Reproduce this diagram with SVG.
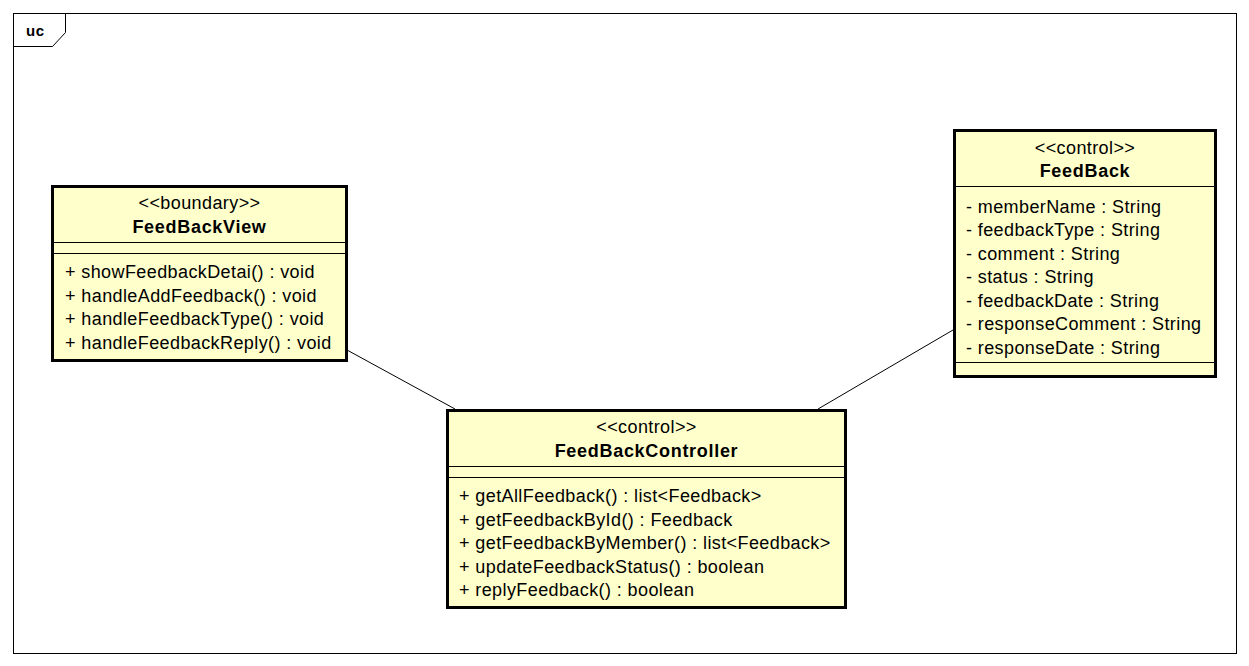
<svg xmlns="http://www.w3.org/2000/svg" width="1249" height="666" viewBox="0 0 1249 666">
<style>
.box{fill:#ffffcc;stroke:#000;stroke-width:3}
.sep{stroke:#000;stroke-width:1}
.t{font-family:"Liberation Sans",Arial,sans-serif;font-size:18px;letter-spacing:0.4px;fill:#000}
.c{text-anchor:middle}
.b{font-weight:bold;letter-spacing:0.7px}
.conn{stroke:#000;stroke-width:1;fill:none}
</style>
<rect x="0" y="0" width="1249" height="666" fill="#fff"/>
<g id="frame">
<rect x="13.5" y="13.5" width="1223" height="640" fill="none" stroke="#000" stroke-width="1"/>
<path d="M13.5 46.5 H52.5 L65.5 32.5 V13.5" fill="none" stroke="#000" stroke-width="1"/>
<text x="26" y="36" class="t b" style="font-size:15px">uc</text>
</g>
<g id="connectors">
<line class="conn" x1="347" y1="350" x2="455" y2="409"/>
<line class="conn" x1="953" y1="330" x2="818" y2="409"/>
</g>
<g id="FeedBackView">
<rect class="box" x="52.5" y="186.5" width="294" height="174"/>
<line class="sep" x1="52" y1="242.5" x2="347" y2="242.5"/>
<line class="sep" x1="52" y1="253.5" x2="347" y2="253.5"/>
<text class="t c" x="199.5" y="209">&lt;&lt;boundary&gt;&gt;</text>
<text class="t c b" x="199.5" y="233">FeedBackView</text>
<text class="t" x="65" y="278">+ showFeedbackDetai() : void</text>
<text class="t" x="65" y="302">+ handleAddFeedback() : void</text>
<text class="t" x="65" y="325">+ handleFeedbackType() : void</text>
<text class="t" x="65" y="349">+ handleFeedbackReply() : void</text>
</g>
<g id="FeedBack">
<rect class="box" x="954.5" y="130.5" width="261" height="246"/>
<line class="sep" x1="954" y1="186.5" x2="1216" y2="186.5"/>
<line class="sep" x1="954" y1="362.5" x2="1216" y2="362.5"/>
<text class="t c" x="1085" y="154">&lt;&lt;control&gt;&gt;</text>
<text class="t c b" x="1085" y="177">FeedBack</text>
<text class="t" x="966" y="213">- memberName : String</text>
<text class="t" x="966" y="236">- feedbackType : String</text>
<text class="t" x="966" y="260">- comment : String</text>
<text class="t" x="966" y="283">- status : String</text>
<text class="t" x="966" y="307">- feedbackDate : String</text>
<text class="t" x="966" y="330">- responseComment : String</text>
<text class="t" x="966" y="354">- responseDate : String</text>
</g>
<g id="FeedBackController">
<rect class="box" x="447.5" y="410.5" width="398" height="197"/>
<line class="sep" x1="447" y1="466.5" x2="846" y2="466.5"/>
<line class="sep" x1="447" y1="477.5" x2="846" y2="477.5"/>
<text class="t c" x="646.5" y="433">&lt;&lt;control&gt;&gt;</text>
<text class="t c b" x="646.5" y="457">FeedBackController</text>
<text class="t" x="459" y="502">+ getAllFeedback() : list&lt;Feedback&gt;</text>
<text class="t" x="459" y="526">+ getFeedbackById() : Feedback</text>
<text class="t" x="459" y="549">+ getFeedbackByMember() : list&lt;Feedback&gt;</text>
<text class="t" x="459" y="573">+ updateFeedbackStatus() : boolean</text>
<text class="t" x="459" y="596">+ replyFeedback() : boolean</text>
</g>
</svg>
